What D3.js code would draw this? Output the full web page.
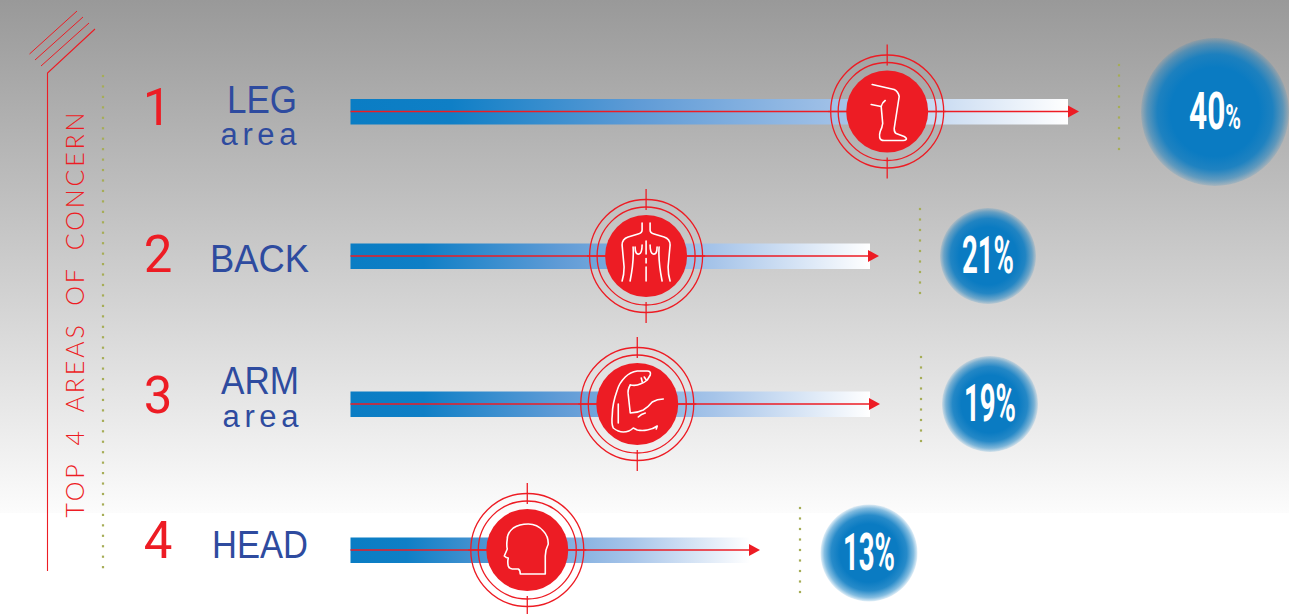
<!DOCTYPE html>
<html><head><meta charset="utf-8">
<script src="https://cdn.jsdelivr.net/npm/d3@7"></script>
<style>html,body{margin:0;padding:0;background:#fff;overflow:hidden}svg{display:block}</style>
</head><body><div id="chart"></div>
<script>
const categories = ["LEG","BACK","ARM","HEAD"];
const subLabels = ["area","","area",""];
const ranks = ["1","2","3","4"];
const percents = [40,21,19,13];
const markerShare = [0.748,0.569,0.552,0.4425];
const title = "TOP 4 AREAS OF CONCERN";

const RED="#ed1c24", BLUE="#2e4b9f", OLIVE="#a6ad57", CORE="#0a7bc2";
const W=1289,H=614;
const svg=d3.select("#chart").append("svg").attr("width",W).attr("height",H);
const defs=svg.append("defs");

const bg=defs.append("linearGradient").attr("id","bg").attr("x1",0).attr("y1",0).attr("x2",0).attr("y2",1);
bg.append("stop").attr("offset",0).attr("stop-color","#999999");
bg.append("stop").attr("offset",0.93).attr("stop-color","#f5f5f5");
bg.append("stop").attr("offset",1).attr("stop-color","#fcfcfc");
const bar=defs.append("linearGradient").attr("id","bar");
[[0,"#0a7dc4"],[0.14,"#0f7fc6"],[0.4,"#5f9bd6"],[0.7,"#a6c4e9"],[1,"#ffffff"]].forEach(s=>bar.append("stop").attr("offset",s[0]).attr("stop-color",s[1]));
const glow=defs.append("radialGradient").attr("id","glow");
[[0,1],[0.6,1],[0.78,.88],[0.92,.5],[1,.12]].forEach(s=>glow.append("stop").attr("offset",s[0]).attr("stop-color",CORE).attr("stop-opacity",s[1]));

svg.append("rect").attr("width",W).attr("height",H).attr("fill","#fff");
svg.append("rect").attr("width",W).attr("height",513).attr("fill","url(#bg)");

// scales
const y=d3.scaleOrdinal(categories,[111.5,256,404,550]);
const x0=350.5;
const barEnd=d3.scaleLinear().domain([13,19,21,40]).range([750,870,870,1068]);
const tip=d3.scaleLinear().domain([13,19,21,40]).range([760,880,879,1079]);
const bubbleX=d3.scaleOrdinal(categories,[1215,988,990,869]);
const bubbleY=d3.scaleOrdinal(categories,[112,256,404,553]);
const bubbleR=d3.scaleOrdinal(categories,[74,48,48,48.5]);
const dotX=d3.scaleOrdinal(categories,[1119,920,921,800]);
const dotTop=d3.scaleOrdinal(categories,[65,209,357,508]);
const labelCx=d3.scaleOrdinal(categories,[262,259.5,260,260]);
const labelW=d3.scaleOrdinal(categories,[70,99,78,96]);
const labelBase=d3.scaleOrdinal(categories,[112.5,272,394,558]);
const subBase=d3.scaleOrdinal(categories,[145,0,426.5,0]);
const subCx=d3.scaleOrdinal(categories,[258.5,0,260.5,0]);
const rankX=d3.scaleOrdinal(categories,[157,158,158,158]);
const rankBase=d3.scaleOrdinal(categories,[125,272,413,558]);
const pctSize=d3.scaleOrdinal(categories,[35,52,52,52]);

const rows=categories.map((c,i)=>({c,sub:subLabels[i],rank:ranks[i],p:percents[i],m:markerShare[i]}));

// decoration
const deco=svg.append("g").attr("stroke",RED).attr("fill","none");
deco.append("path").attr("d","M47.5,571V73L95,29").attr("stroke-width",1.1);
[[41,66,89,23],[35,60,83,17],[29.5,54,77,11]].forEach(d=>deco.append("line").attr("x1",d[0]).attr("y1",d[1]).attr("x2",d[2]).attr("y2",d[3]).attr("stroke-width",1));

function dots(x,y1,y2,step){
  svg.append("g").selectAll("rect").data(d3.range(y1,y2+.5,step)).join("rect")
   .attr("x",x-1.1).attr("y",d=>d-1.1).attr("width",2.2).attr("height",2.2).attr("fill",OLIVE);
}
dots(103,76,567,10.45);

svg.append("text").attr("transform","translate(84,517.5) rotate(-90)")
  .attr("font-family","Lato, 'Open Sans', sans-serif").attr("font-weight",300).attr("font-size",25)
  .attr("fill",RED).attr("xml:space","preserve").attr("word-spacing",7)
  .attr("textLength",405).attr("lengthAdjust","spacing").text(title);

const icons={
 LEG:["M-15,-27L7,-22Q11,-20 12,-15L7,17Q7,21 9,22L17,25Q20,27 19,28Q18,29 16,29L-3,29Q-7,29 -7.5,26Q-8,23 -7,20Q-5,16 -4.5,12L-6,-5Q-5,-9 -2,-11","M-16,-7L-6,-5"],
 BACK:["M-4,-33V-26Q-4,-23 -8,-22L-18,-19Q-24,-17 -24,-11Q-23,0 -22,11Q-22,19 -24,25","M4,-33V-26Q4,-23 8,-22L18,-19Q24,-17 24,-11Q23,0 22,11Q22,19 24,25",
  "M-13,-9Q-12,5 -16,25","M13,-9Q12,5 16,25","M-11,-9Q-11,-1 -7,-2Q-4,-3 -4,-11","M11,-9Q11,-1 7,-2Q4,-3 4,-11","M0,-15V-2","M0,2.5V7","M0,11V25"],
 ARM:["M-7,-19Q-1,-18 3,-20Q8,-22 10,-24L13,-29Q14,-33 10,-33Q5,-33 0,-33Q-7,-32 -12,-27Q-18,-21 -20,-14Q-25,0 -25,11Q-26,20 -24,24Q-19,28 -14,28Q-8,28 -4,24Q-2,25 0,26Q5,27 10,26Q16,25 20,22L19,25",
  "M-7,-19Q-10,-14 -9,-9Q-8,0 -7,9Q0,9 6,6Q11,3 15,-2Q20,-5 26,-5","M-19,0V19","M1,13Q4,10 8,9","M4,-26L5,-22","M7,-27L9,-24"],
 HEAD:["M18,24V6Q18,0 21,-6Q21,-14 16,-19Q10,-26 1,-26Q-8,-26 -14,-22Q-20,-17 -20,-11Q-21,-5 -20,-1L-23,6Q-21,8 -19,8Q-20,12 -19,16Q-18,19 -15,19L-9,19Q-7,20 -7,24Z"]
};

const g=svg.append("g").selectAll("g").data(rows).join("g");
g.append("rect").attr("x",x0).attr("y",d=>y(d.c)-12.5).attr("width",d=>barEnd(d.p)-x0).attr("height",25.5).attr("fill","url(#bar)");
g.append("line").attr("x1",x0).attr("x2",d=>tip(d.p)-10).attr("y1",d=>y(d.c)).attr("y2",d=>y(d.c)).attr("stroke",RED).attr("stroke-width",1.3);
g.append("path").attr("fill",RED).attr("d",d=>{const t=tip(d.p),v=y(d.c);return d3.line()([[t-11,v-6],[t,v],[t-11,v+6]])+"Z";});

const mk=g.append("g").attr("transform",d=>`translate(${x0+(barEnd(d.p)-x0)*d.m},${y(d.c)})`);
mk.append("circle").attr("r",41).attr("fill",RED);
mk.selectAll("circle.ring").data([49,56.5]).join("circle").attr("class","ring").attr("r",r=>r).attr("fill","none").attr("stroke",RED).attr("stroke-width",1.3);
mk.selectAll("line.tick").data([[0,-67,0,-46],[0,46,0,67],[-59,0,-41,0],[41,0,59,0]]).join("line").attr("class","tick")
  .attr("x1",t=>t[0]).attr("y1",t=>t[1]).attr("x2",t=>t[2]).attr("y2",t=>t[3]).attr("stroke",RED).attr("stroke-width",1.3);
mk.each(function(d){
  d3.select(this).selectAll("path").data(icons[d.c]).join("path").attr("d",p=>p).attr("fill","none")
   .attr("stroke","#fff").attr("stroke-width",1.6).attr("stroke-linecap","round").attr("stroke-linejoin","round");
});

const sans="'Liberation Sans', Arial, sans-serif";
g.append("text").attr("x",d=>rankX(d.c)).attr("y",d=>rankBase(d.c)).attr("text-anchor","middle")
 .attr("font-family","Roboto, sans-serif").attr("font-size",51).attr("fill",RED).text(d=>d.rank);
g.append("text").attr("x",d=>labelCx(d.c)-labelW(d.c)/2).attr("y",d=>labelBase(d.c))
 .attr("font-family",sans).attr("font-size",38).attr("fill",BLUE)
 .attr("textLength",d=>labelW(d.c)).attr("lengthAdjust","spacingAndGlyphs").text(d=>d.c);
g.filter(d=>d.sub).append("text").attr("x",d=>subCx(d.c)-38).attr("y",d=>subBase(d.c))
 .attr("font-family",sans).attr("font-size",31).attr("fill",BLUE)
 .attr("textLength",76).attr("lengthAdjust","spacing").text(d=>d.sub);

rows.forEach(d=>{const t=dotTop(d.c);dots(dotX(d.c),t,t+85,10.5);});

g.append("circle").attr("cx",d=>bubbleX(d.c)).attr("cy",d=>bubbleY(d.c)).attr("r",d=>bubbleR(d.c)).attr("fill","url(#glow)");
const valueText=g.append("text").attr("x",d=>bubbleX(d.c)-26).attr("y",d=>bubbleY(d.c)+17)
 .attr("font-family","Roboto, sans-serif").attr("font-weight",700).attr("font-size",52).attr("fill","#fff")
 .attr("textLength",52).attr("lengthAdjust","spacingAndGlyphs");
valueText.append("tspan").text(d=>d.p);
valueText.append("tspan").attr("font-size",d=>pctSize(d.c)).text("%");
</script></body></html>
